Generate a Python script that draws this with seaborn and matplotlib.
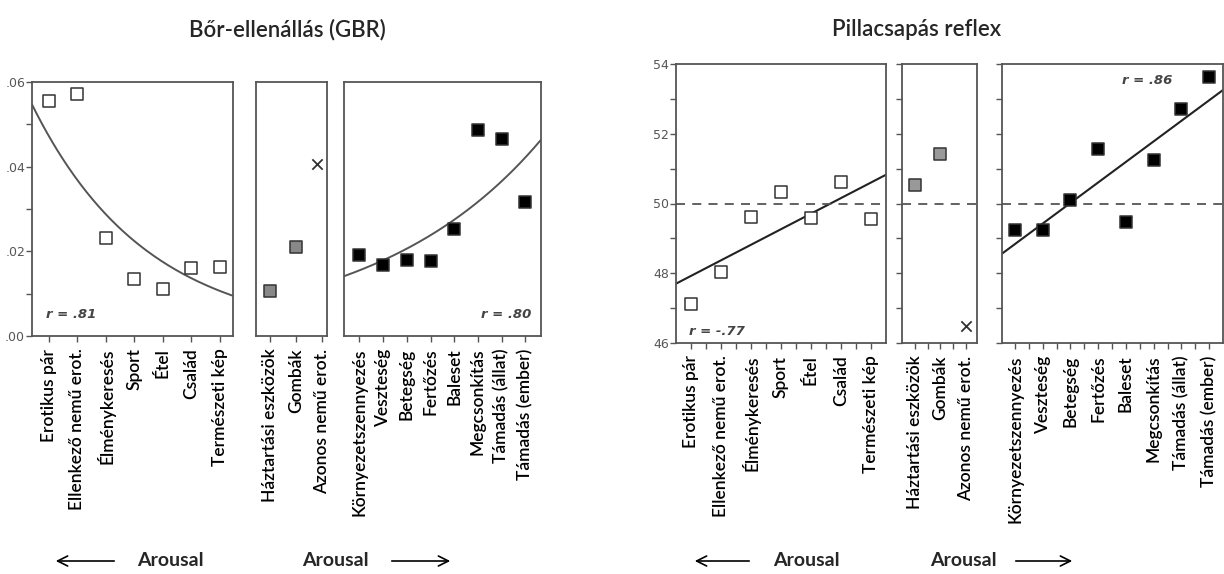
import numpy as np
import pandas as pd
import matplotlib
matplotlib.use("Agg")
import matplotlib.pyplot as plt
import matplotlib.patches as mpatches
import seaborn as sns

# picture categories
pleasant_labels = ["Erotikus pár", "Ellenkező nemű erot.", "Élménykeresés", "Sport",
                   "Étel", "Család", "Természeti kép"]
neutral_labels = ["Háztartási eszközök", "Gombák", "Azonos nemű erot."]
unpleasant_labels = ["Környezetszennyezés", "Veszteség", "Betegség", "Fertőzés",
                     "Baleset", "Megcsonkítás", "Támadás (állat)", "Támadás (ember)"]

# skin conductance (GBR) values
gbr_pleasant = [0.0556, 0.0572, 0.0232, 0.0135, 0.0111, 0.0161, 0.0163]
gbr_neutral = [0.0106, 0.0210, 0.0406]
gbr_unpleasant = [0.0191, 0.0167, 0.0180, 0.0176, 0.0252, 0.0487, 0.0465, 0.0317]

# blink reflex values
blink_pleasant = [47.12, 48.03, 49.60, 50.34, 49.58, 50.61, 49.56]
blink_neutral = [50.54, 51.41, 46.50]
blink_unpleasant = [49.24, 49.24, 50.10, 51.56, 49.46, 51.24, 52.72, 53.63]

gbr_r = ["r = .81", "r = .80"]
blink_r = ["r = -.77", "r = .86"]
gbr_yticks = [0.00, 0.02, 0.04, 0.06]
gbr_yticklabels = [".00", ".02", ".04", ".06"]
blink_yticks = [46, 48, 50, 52, 54]

sns.set_style("ticks")
plt.rcParams["font.family"] = ["Lato", "DejaVu Sans"]

FRAME = "#555555"
fig = plt.figure(figsize=(12.24, 5.74), dpi=100)


def style_axes(ax, labels, xlim, ylim, minor_x=False):
    ax.set_xlim(*xlim)
    ax.set_ylim(*ylim)
    ax.set_xticks(range(len(labels)))
    ax.set_xticklabels(labels, rotation=90, fontsize=12.5, color="black",
                       fontweight="semibold")
    if minor_x:
        ax.set_xticks(np.arange(len(labels) - 1) + 0.5, minor=True)
    for sp in ax.spines.values():
        sp.set_visible(True)
        sp.set_color(FRAME)
        sp.set_linewidth(1.3)
    ax.tick_params(axis="both", which="both", direction="out", color=FRAME,
                   length=4, width=1)
    ax.tick_params(axis="x", pad=5)
    ax.set_xlabel("")
    ax.set_ylabel("")


def squares(ax, values, face):
    df = pd.DataFrame({"x": np.arange(len(values)), "y": values})
    sns.scatterplot(data=df, x="x", y="y", ax=ax, marker="s", s=64,
                    color=face, edgecolor="#333333", linewidth=1.1, legend=False,
                    zorder=3)


def exp_fit(ax, values, xlim):
    x = np.arange(len(values))
    coef = np.polyfit(x, np.log(values), 1)
    xs = np.linspace(xlim[0], xlim[1], 200)
    sns.lineplot(x=xs, y=np.exp(np.polyval(coef, xs)), ax=ax, color="#555555",
                 linewidth=1.4)


def lin_fit(ax, values, xlim):
    x = np.arange(len(values))
    coef = np.polyfit(x, values, 1)
    xs = np.array(xlim)
    sns.lineplot(x=xs, y=np.polyval(coef, xs), ax=ax, color="#222222",
                 linewidth=1.5)


def px(l, r, t, b):
    return [l / 1224, (574 - b) / 574, (r - l) / 1224, (b - t) / 574]


r_font = dict(fontsize=9.5, fontweight="bold", style="italic", color="#444444",
              family=["DejaVu Sans"])
x_kw = dict(marker="x", s=55, color="#333333", linewidth=1.3, zorder=3)

# ---------------- GBR ----------------
gylim = (0, 0.06)
a1 = fig.add_axes(px(32, 233, 82, 336))
xl = (-0.58, 6.47)
squares(a1, gbr_pleasant, "white")
exp_fit(a1, gbr_pleasant, xl)
style_axes(a1, pleasant_labels, xl, gylim)
a1.set_yticks(gbr_yticks)
a1.set_yticklabels(gbr_yticklabels, fontsize=9, color="#555555",
                   family=["DejaVu Sans"])
a1.set_yticks([0.01, 0.03, 0.05], minor=True)
a1.tick_params(axis="y", pad=1)
a1.text(0.07, 0.07, gbr_r[0], transform=a1.transAxes, **r_font)

a2 = fig.add_axes(px(256, 327, 82, 336))
xl2 = (-0.54, 2.2)
squares(a2, gbr_neutral[:2], "#888888")
a2.scatter([2 - 0.2], [gbr_neutral[2]], **x_kw)
style_axes(a2, neutral_labels, xl2, gylim)
a2.set_yticks([])

a3 = fig.add_axes(px(344, 541, 82, 336))
xl3 = (-0.65, 7.66)
squares(a3, gbr_unpleasant, "black")
exp_fit(a3, gbr_unpleasant, xl3)
style_axes(a3, unpleasant_labels, xl3, gylim)
a3.set_yticks([])
a3.text(0.95, 0.07, gbr_r[1], transform=a3.transAxes, ha="right", **r_font)

# ---------------- Blink ----------------
bylim = (46, 54)
b1 = fig.add_axes(px(676, 886, 64, 343))
bx1 = (-0.51, 6.51)
squares(b1, blink_pleasant, "white")
lin_fit(b1, blink_pleasant, bx1)
b1.axhline(50, color="#555555", lw=1.3, ls=(0, (5, 4)))
style_axes(b1, pleasant_labels, bx1, bylim, minor_x=True)
b1.set_yticks(blink_yticks)
b1.set_yticklabels([str(v) for v in blink_yticks], fontsize=9, color="#555555",
                   family=["DejaVu Sans"])
b1.set_yticks([47, 49, 51, 53], minor=True)
b1.tick_params(axis="y", pad=1)
b1.text(0.06, 0.03, blink_r[0], transform=b1.transAxes, **r_font)

b2 = fig.add_axes(px(902, 977, 64, 343))
bx2 = (-0.49, 2.42)
squares(b2, blink_neutral[:2], "#999999")
b2.scatter([2], [blink_neutral[2]], **x_kw)
b2.axhline(50, color="#555555", lw=1.3, ls=(0, (5, 4)))
style_axes(b2, neutral_labels, bx2, bylim, minor_x=True)
b2.set_yticks(range(46, 55))
b2.set_yticklabels([])

b3 = fig.add_axes(px(1002, 1223, 64, 343))
bx3 = (-0.47, 7.5)
squares(b3, blink_unpleasant, "black")
lin_fit(b3, blink_unpleasant, bx3)
b3.axhline(50, color="#555555", lw=1.3, ls=(0, (5, 4)))
style_axes(b3, unpleasant_labels, bx3, bylim, minor_x=True)
b3.set_yticks(range(46, 55))
b3.set_yticklabels([])
b3.text(0.77, 0.93, blink_r[1], transform=b3.transAxes, ha="right", **r_font)

# titles
fig.text(287 / 1224, 1 - 30 / 574, "Bőr-ellenállás (GBR)", ha="center",
         va="center", fontsize=16, fontweight="semibold")
fig.text(917 / 1224, 1 - 30 / 574, "Pillacsapás reflex", ha="center",
         va="center", fontsize=16, fontweight="semibold")

# arousal arrows
ay = 1 - 561 / 574
for (tx, ha, x0, x1) in [(137, "left", 117, 53), (369, "right", 389, 453),
                         (773, "left", 752, 692), (997, "right", 1013, 1075)]:
    fig.text(tx / 1224, ay, "Arousal", ha=ha, va="center", fontsize=14,
             fontweight="bold")
    fig.add_artist(mpatches.FancyArrowPatch((x0 / 1224, ay), (x1 / 1224, ay),
                                            transform=fig.transFigure,
                                            arrowstyle="->", mutation_scale=18,
                                            lw=1.2, color="black"))

fig.savefig("out.png", dpi=100)
